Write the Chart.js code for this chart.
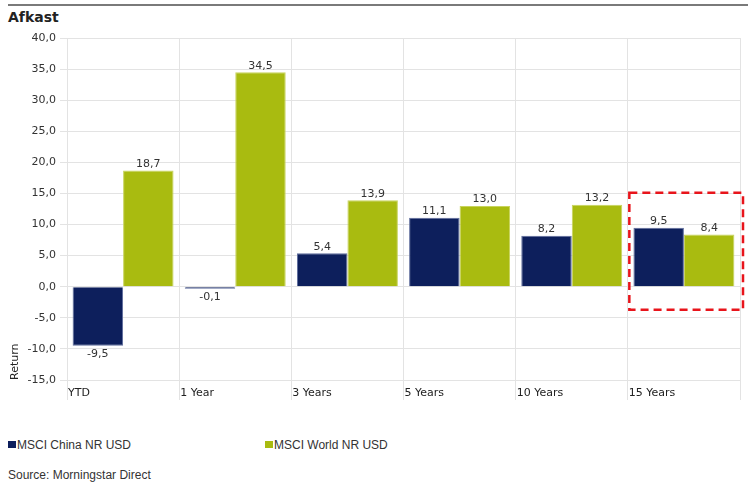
<!DOCTYPE html>
<html>
<head>
<meta charset="utf-8">
<script src="https://cdn.jsdelivr.net/npm/chart.js@4"></script>
<style>
  body { margin: 0; background: #fff; }
  #wrap { position: relative; width: 748px; height: 482px; overflow: hidden; font-family: "DejaVu Sans", Verdana, sans-serif; color: #333; }
  #topline { position: absolute; left: 8px; top: 4px; width: 740px; height: 2px; background: #7a7a7a; }
  #title { position: absolute; left: 8px; top: 9px; font-size: 14px; font-weight: bold; color: #222; }
  #chartBox { position: absolute; left: 0; top: 25px; width: 748px; height: 385px; }
  .legend { position: absolute; top: 438px; font-family: "Liberation Sans", Arial, sans-serif; font-size: 12px; color: #333; }
  .legend span.sw { display: inline-block; width: 8px; height: 7px; margin-right: 1px; vertical-align: 1px; }
  #source { position: absolute; left: 8px; top: 468px; font-family: "Liberation Sans", Arial, sans-serif; font-size: 12px; color: #333; }
</style>
</head>
<body>
<div id="wrap">
  <div id="topline"></div>
  <div id="title">Afkast</div>
  <div id="chartBox"><canvas id="returnChart"></canvas></div>
  <div class="legend" style="left:8px"><span class="sw" style="background:#0d1f5c"></span>MSCI China NR USD</div>
  <div class="legend" style="left:265px"><span class="sw" style="background:#a9bb10"></span>MSCI World NR USD</div>
  <div id="source">Source: Morningstar Direct</div>
</div>

<script>
// Afkast - MSCI China vs MSCI World

const periods = ["YTD", "1 Year", "3 Years", "5 Years", "10 Years", "15 Years"];
const chinaReturns = [-9.5, -0.1, 5.4, 11.1, 8.2, 9.5];
const worldReturns = [18.7, 34.5, 13.9, 13.0, 13.2, 8.4];
const yTicks = [40, 35, 30, 25, 20, 15, 10, 5, 0, -5, -10, -15];

const seriesNames = ["MSCI China NR USD", "MSCI World NR USD"];
const highlightIndex = 5;

function fmt(v) {
  return v.toFixed(1).replace(".", ",");
}

/* =========================================
   VALUE LABELS ON BARS
========================================= */
const valueLabels = {
  id: "valueLabels",
  afterDatasetsDraw(chart) {
    const ctx = chart.ctx;
    ctx.save();
    ctx.font = "11px 'DejaVu Sans'";
    ctx.fillStyle = "#333";
    ctx.textAlign = "center";
    chart.data.datasets.forEach((ds, di) => {
      chart.getDatasetMeta(di).data.forEach((bar, i) => {
        const v = ds.data[i];
        if (v >= 0) {
          ctx.textBaseline = "bottom";
          ctx.fillText(fmt(v), bar.x, bar.y - 1);
        } else {
          ctx.textBaseline = "top";
          ctx.fillText(fmt(v), bar.x, Math.max(bar.y, bar.base) + 3);
        }
      });
    });
    ctx.restore();
  }
};

/* =========================================
   CATEGORY LABELS (left aligned at gridline)
========================================= */
const categoryLabels = {
  id: "categoryLabels",
  afterDraw(chart) {
    const ctx = chart.ctx;
    const x = chart.scales.x;
    const step = (x.right - x.left) / periods.length;
    ctx.save();
    ctx.font = "11px 'DejaVu Sans'";
    ctx.fillStyle = "#222";
    ctx.textAlign = "left";
    ctx.textBaseline = "middle";
    periods.forEach((p, i) => {
      ctx.fillText(p, x.left + i * step + 1, chart.chartArea.bottom + 13);
    });
    ctx.restore();
  }
};

/* =========================================
   DASHED HIGHLIGHT BOX
========================================= */
const highlightBox = {
  id: "highlightBox",
  afterDraw(chart) {
    const ctx = chart.ctx;
    const x = chart.scales.x;
    const y = chart.scales.y;
    const step = (x.right - x.left) / periods.length;
    const left = x.left + highlightIndex * step + 1.5;
    const right = x.right + 3;
    const top = y.getPixelForValue(15.1);
    const bottom = y.getPixelForValue(-3.7);
    ctx.save();
    ctx.strokeStyle = "#e8141b";
    ctx.lineWidth = 2.5;
    ctx.setLineDash([8, 5]);
    ctx.strokeRect(left, top, right - left, bottom - top);
    ctx.restore();
  }
};

const canvas = document.getElementById("returnChart");
new Chart(canvas.getContext("2d"), {
  type: "bar",
  data: {
    labels: periods,
    datasets: [
      {
        label: seriesNames[0],
        data: chinaReturns,
        backgroundColor: "#0d1f5c",
        borderColor: "#5e6c9c",
        borderWidth: 1,
        minBarLength: 2,
        categoryPercentage: 0.9,
        barPercentage: 1.0
      },
      {
        label: seriesNames[1],
        data: worldReturns,
        backgroundColor: "#a9bb10",
        borderColor: "#c8d35c",
        borderWidth: 1,
        minBarLength: 2,
        categoryPercentage: 0.9,
        barPercentage: 1.0
      }
    ]
  },
  options: {
    responsive: true,
    maintainAspectRatio: false,
    animation: false,
    layout: { padding: { top: 13, right: 8, left: 9, bottom: 0 } },
    plugins: {
      legend: { display: false },
      tooltip: { enabled: false }
    },
    scales: {
      x: {
        offset: true,
        grid: {
          offset: true,
          color: "#e3e3e3",
          tickLength: 20,
          drawTicks: true
        },
        border: { color: "#e3e3e3" },
        ticks: { display: false },
        afterFit(scale) { scale.height = 30; }
      },
      y: {
        min: -15,
        max: 40,
        afterBuildTicks(scale) {
          scale.ticks = yTicks.map(v => ({ value: v }));
        },
        grid: {
          color: "#e3e3e3",
          tickLength: 7
        },
        border: { color: "#e3e3e3" },
        ticks: {
          color: "#333",
          font: { family: "DejaVu Sans", size: 11 },
          padding: 4,
          callback: v => fmt(v)
        },
        title: {
          display: true,
          text: "Return",
          align: "start",
          color: "#222",
          font: { family: "DejaVu Sans", size: 11 },
          padding: { top: 0, bottom: 2 }
        },
        afterFit(scale) { scale.width = 58; }
      }
    }
  },
  plugins: [valueLabels, categoryLabels, highlightBox]
});
</script>
</body>
</html>
